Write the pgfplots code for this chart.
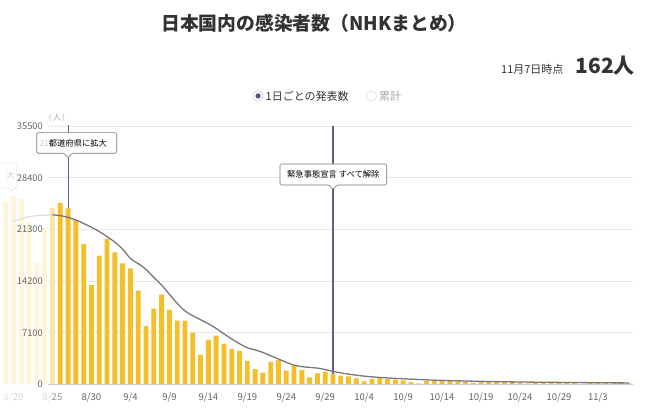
\documentclass[border=0pt]{standalone}
\usepackage{pgfplots}
\pgfplotsset{compat=1.18}
\usepackage{pgfplotstable}
\usepackage{fontspec}
\setmainfont{Noto Sans CJK JP}

\definecolor{barc}{RGB}{245,191,42}
\definecolor{fade1}{RGB}{253,244,217}
\definecolor{fade3}{RGB}{249,230,170}
\definecolor{avgc}{RGB}{120,120,120}
\definecolor{avgfade}{RGB}{222,222,222}
\definecolor{gridc}{RGB}{232,232,232}
\definecolor{basec}{RGB}{205,205,205}
\definecolor{evline}{RGB}{95,95,135}
\definecolor{tickc}{RGB}{100,100,100}
\definecolor{titlec}{RGB}{51,51,51}
\definecolor{boxc}{RGB}{120,120,120}

% days counted from 8/25 (=0)
\pgfplotstableread{
d n
-6 25148
-5 25876
-4 25492
-3 22285
-2 16763
-1 21570
}\early

\pgfplotstableread{
d n
1 24950
2 24180
3 22600
4 19300
5 13640
6 17710
7 20000
8 18150
9 16650
10 15950
11 12900
12 8000
13 10420
14 12350
15 10250
16 8780
17 8760
18 7100
19 4080
20 6130
21 6720
22 5580
23 4900
24 4610
25 3236
26 2100
27 1630
28 3100
29 3340
30 1905
31 2550
32 2000
33 990
34 1540
35 1770
36 1450
37 1216
38 1120
39 830
40 430
41 735
42 890
43 760
44 665
45 550
46 320
47 140
48 505
49 480
50 520
51 500
52 420
53 430
54 230
55 390
56 380
57 345
58 320
59 310
60 230
61 150
62 310
63 280
64 290
65 280
66 285
67 220
68 86
69 220
70 240
71 190
72 230
73 215
74 162
}\daily

% 7-day average line
\pgfplotstableread{
d a
-5 22400
-3 23050
-1 23250
0 23300
}\avgearly

\pgfplotstableread{
d a
0 23300
1 23200
2 22950
3 22600
4 22100
5 21600
6 21000
7 20300
8 19550
9 18600
10 17300
11 16600
12 15800
13 14700
14 13650
15 12400
16 11150
17 10100
18 9450
19 8900
20 8350
21 7700
22 6950
23 6250
24 5600
25 5050
26 4750
27 4400
28 3950
29 3500
30 3050
31 2650
32 2450
33 2350
34 2250
35 2050
36 1800
37 1600
38 1420
40 1150
42 970
44 840
46 740
48 640
50 560
53 480
56 410
59 360
62 320
65 290
68 260
71 235
74 215
}\avg

\begin{document}
\begin{tikzpicture}[x=1pt,y=1pt]
\begin{axis}[
  at={(0pt,24.5pt)}, anchor=south west,
  scale only axis, width=633pt, height=258.5pt,
  xmin=-6.74, xmax=74.5, ymin=0, ymax=35500,
  axis line style={draw=none},
  major tick length=0pt,
  scaled y ticks=false,
  xtick={-5,0,5,10,15,20,25,30,35,40,45,50,55,60,65,70},
  xticklabels={{\textcolor{gray!20}{8/}\textcolor{gray!35}{20}},
    {\textcolor{gray!30}{8/}\textcolor{tickc!70}{25}},
    8/30,9/4,9/9,9/14,9/19,9/24,9/29,10/4,10/9,10/14,10/19,10/24,10/29,11/3},
  ytick=\empty,
  xticklabel style={anchor=north, inner sep=0pt, yshift=-8.5pt,
    font=\fontsize{9.5}{10}\selectfont, text=tickc},
]
% grid lines
\draw[gridc, line width=0.8pt] (axis cs:-0.58,7100) -- (axis cs:74.5,7100);
\draw[gridc, line width=0.8pt] (axis cs:-0.58,14200) -- (axis cs:74.5,14200);
\draw[gridc, line width=0.8pt] (axis cs:-0.58,21300) -- (axis cs:74.5,21300);
\draw[gridc, line width=0.8pt] (axis cs:-0.58,28400) -- (axis cs:74.5,28400);
\draw[gridc, line width=0.8pt] (axis cs:-0.58,35500) -- (axis cs:74.5,35500);
% event lines
\draw[evline, line width=1.1pt] (axis cs:2,0) -- (axis cs:2,35600);
\draw[evline, line width=1.1pt] (axis cs:36,0) -- (axis cs:36,35500);
% bars
\addplot[ybar, bar width=0.62, bar shift=0pt, fill=fade1, draw=none] table[x=d,y=n] {\early};
\addplot[ybar, bar width=0.62, bar shift=0pt, fill=fade3, draw=none] coordinates {(0,24200)};
\addplot[ybar, bar width=0.62, bar shift=0pt, fill=barc, draw=none] table[x=d,y=n] {\daily};
% baseline
\draw[basec, line width=0.8pt] (axis cs:-0.58,0) -- (axis cs:74.5,0);
% 7-day average
\addplot[avgfade, line width=1.2pt, smooth, no markers] table[x=d,y=a] {\avgearly};
\addplot[avgc, line width=1.3pt, smooth, no markers] table[x=d,y=a] {\avg};
\end{axis}

% title and header
\node[font=\fontsize{18.8}{20}\selectfont\bfseries, text=titlec] at (314,386) {日本国内の感染者数（NHKまとめ）};
\node[anchor=base east, font=\fontsize{11}{12}\selectfont, text=titlec] at (567,335) {11月7日時点};
\node[anchor=base west, font=\fontsize{21}{22}\selectfont\bfseries, text=titlec] at (572,335) {162人};

% radio buttons
\draw[gray!60, fill=white] (258,313) circle (5.2);
\fill[evline!90!black] (258,313) circle (2.6);
\node[anchor=west, font=\fontsize{11}{12}\selectfont, text=titlec, inner sep=0pt] at (265.5,313) {1日ごとの発表数};
\draw[gray!35, fill=white] (371.5,313) circle (5.2);
\node[anchor=west, font=\fontsize{11}{12}\selectfont, text=gray!70, inner sep=0pt] at (379,313) {累計};

% unit
\node[font=\fontsize{8}{9}\selectfont, text=gray!65] at (57,291) {(\,人\,)};

% faded tooltip at the left edge
\draw[gray!25, fill=white, rounded corners=1.5pt] (-12,221) -- (-12,246) -- (16.5,246) -- (16.5,221) -- (14.5,221) -- (12,217) -- (9.5,221) -- cycle;
\node[font=\fontsize{8.3}{9}\selectfont, text=gray!40] at (10.5,234) {大};

% y tick labels (set over the faded bars, as in the chart)
\foreach \v [count=\i from 0] in {0,7100,14200,21300,28400,35500}
  \node[anchor=east, inner sep=0pt, font=\fontsize{9.3}{10}\selectfont, text=tickc]
    at (43,24.5+\i*51.7) {\v};

% tooltip 1
\draw[boxc, fill=white, rounded corners=1.5pt, line width=0.6pt] (36.7,255.7) -- (36.7,276.3) -- (116.7,276.3) -- (116.7,255.7) -- (71.8,255.7) -- (68.1,251) -- (64.4,255.7) -- cycle;
\node[anchor=west, inner sep=0pt, font=\fontsize{8.3}{9}\selectfont, text=black] at (39.5,266) {\textcolor{gray!40}{21}都道府県に拡大};

% tooltip 2
\draw[boxc, fill=white, rounded corners=1.5pt, line width=0.6pt] (280,224) -- (280,245) -- (386.7,245) -- (386.7,224) -- (336.7,224) -- (333,219.5) -- (329.3,224) -- cycle;
\node[inner sep=0pt, font=\fontsize{8.3}{9}\selectfont, text=black] at (333.3,234.5) {緊急事態宣言 すべて解除};

\pgfresetboundingbox
\path[use as bounding box] (0,0) rectangle (647,409);
\end{tikzpicture}
\end{document}
